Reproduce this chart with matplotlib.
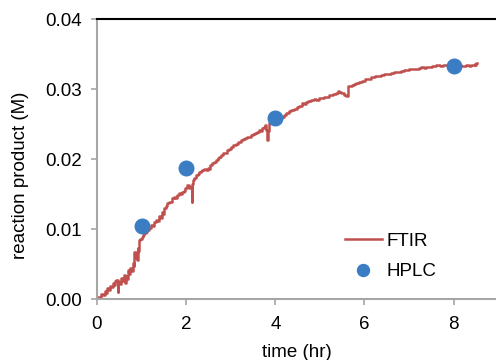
import matplotlib
matplotlib.use("Agg")
import matplotlib.pyplot as plt
from matplotlib.ticker import FormatStrFormatter

plt.rcParams['font.family'] = ['Liberation Sans', 'DejaVu Sans']

ftir_time = [0.00, 0.04, 0.08, 0.11, 0.15, 0.19, 0.22, 0.25, 0.28, 0.31, 0.34, 0.36, 0.39, 0.42,
             0.45, 0.47, 0.49, 0.52, 0.56, 0.59, 0.61, 0.63, 0.66, 0.68, 0.70, 0.73, 0.76, 0.79,
             0.81, 0.83, 0.85, 0.88, 0.90, 0.92, 0.94, 0.96, 0.99, 1.01, 1.05, 1.08, 1.11, 1.14,
             1.18, 1.23, 1.26, 1.30, 1.34, 1.37, 1.41, 1.44, 1.47, 1.50, 1.52, 1.56, 1.59, 1.63,
             1.66, 1.70, 1.74, 1.78, 1.82, 1.86, 1.90, 1.93, 1.97, 2.00, 2.02, 2.04, 2.07, 2.11,
             2.13, 2.15, 2.17, 2.20, 2.24, 2.27, 2.31, 2.34, 2.38, 2.42, 2.46, 2.50, 2.53, 2.56,
             2.60, 2.64, 2.69, 2.72, 2.76, 2.80, 2.84, 2.88, 2.94, 2.98, 3.03, 3.09, 3.14, 3.20,
             3.25, 3.30, 3.35, 3.39, 3.44, 3.48, 3.53, 3.57, 3.61, 3.66, 3.69, 3.72, 3.76, 3.79,
             3.81, 3.83, 3.84, 3.86, 3.90, 3.95, 4.00, 4.06, 4.11, 4.17, 4.22, 4.28, 4.33, 4.39,
             4.45, 4.51, 4.56, 4.62, 4.66, 4.71, 4.77, 4.83, 4.89, 4.95, 5.01, 5.07, 5.13, 5.17,
             5.22, 5.27, 5.32, 5.38, 5.42, 5.45, 5.49, 5.52, 5.57, 5.61, 5.63, 5.65, 5.70, 5.74,
             5.78, 5.84, 5.90, 5.97, 6.05, 6.12, 6.19, 6.27, 6.35, 6.40, 6.46, 6.52, 6.57, 6.63,
             6.68, 6.74, 6.80, 6.86, 6.91, 6.97, 7.03, 7.08, 7.13, 7.19, 7.24, 7.30, 7.35, 7.42,
             7.48, 7.53, 7.58, 7.65, 7.72, 7.80, 7.86, 7.92, 7.97, 8.03, 8.09, 8.14, 8.20, 8.25,
             8.31, 8.36, 8.42, 8.46, 8.48, 8.50, 8.52]

ftir_conc = [0.0000, 0.0003, 0.0002, 0.0007, 0.0006, 0.0011, 0.0009, 0.0016, 0.0013, 0.0019, 0.0017, 0.0023, 0.0020, 0.0026,
             0.0027, 0.0010, 0.0024, 0.0021, 0.0030, 0.0026, 0.0035, 0.0023, 0.0033, 0.0029, 0.0041, 0.0036, 0.0044, 0.0040,
             0.0051, 0.0047, 0.0067, 0.0058, 0.0056, 0.0073, 0.0069, 0.0084, 0.0086, 0.0089, 0.0091, 0.0094, 0.0096, 0.0099,
             0.0101, 0.0106, 0.0104, 0.0110, 0.0113, 0.0111, 0.0118, 0.0116, 0.0124, 0.0122, 0.0130, 0.0133, 0.0137, 0.0139,
             0.0138, 0.0144, 0.0146, 0.0145, 0.0149, 0.0151, 0.0150, 0.0153, 0.0155, 0.0158, 0.0160, 0.0163, 0.0159, 0.0160,
             0.0139, 0.0165, 0.0170, 0.0173, 0.0177, 0.0179, 0.0181, 0.0183, 0.0184, 0.0186, 0.0185, 0.0187, 0.0186, 0.0191,
             0.0194, 0.0196, 0.0199, 0.0201, 0.0203, 0.0206, 0.0208, 0.0209, 0.0213, 0.0214, 0.0217, 0.0220, 0.0222, 0.0225,
             0.0227, 0.0228, 0.0230, 0.0231, 0.0232, 0.0234, 0.0236, 0.0237, 0.0239, 0.0241, 0.0240, 0.0244, 0.0246, 0.0249,
             0.0241, 0.0227, 0.0240, 0.0251, 0.0253, 0.0256, 0.0257, 0.0259, 0.0259, 0.0260, 0.0263, 0.0266, 0.0268, 0.0270,
             0.0272, 0.0274, 0.0276, 0.0280, 0.0279, 0.0281, 0.0283, 0.0284, 0.0286, 0.0285, 0.0287, 0.0287, 0.0289, 0.0288,
             0.0291, 0.0292, 0.0293, 0.0294, 0.0297, 0.0296, 0.0294, 0.0294, 0.0292, 0.0290, 0.0300, 0.0304, 0.0305, 0.0306,
             0.0307, 0.0308, 0.0310, 0.0312, 0.0314, 0.0315, 0.0317, 0.0318, 0.0319, 0.0320, 0.0321, 0.0322, 0.0321, 0.0323,
             0.0324, 0.0325, 0.0325, 0.0326, 0.0327, 0.0327, 0.0328, 0.0329, 0.0329, 0.0328, 0.0330, 0.0331, 0.0330, 0.0331,
             0.0332, 0.0333, 0.0333, 0.0334, 0.0333, 0.0334, 0.0335, 0.0334, 0.0334, 0.0334, 0.0333, 0.0334, 0.0333, 0.0333,
             0.0334, 0.0333, 0.0335, 0.0334, 0.0336, 0.0334, 0.0337]

hplc_time = [1, 2, 4, 8]
hplc_conc = [0.0105, 0.0187, 0.0259, 0.0333]

x_ticks = [0, 2, 4, 6, 8]
y_ticks = [0.00, 0.01, 0.02, 0.03, 0.04]

RED = '#c0504d'
BLUE = '#3b7dc3'
GRAY = '#a6a6a6'

fig = plt.figure(figsize=(4.96, 3.6), dpi=100)
ax = fig.add_axes([97 / 496, 1 - 299 / 360, 1 - 97 / 496, 280 / 360])

ax.plot(ftir_time, ftir_conc, color=RED, lw=1.8, label='FTIR', zorder=2,
        drawstyle='steps-mid')
ax.plot(hplc_time, hplc_conc, 'o', color=BLUE, ms=10.5, mec=BLUE, label='HPLC', zorder=3)

ax.set_xlim(0, 8.95)
ax.set_ylim(0, 0.04)
ax.set_xticks(x_ticks)
ax.set_yticks(y_ticks)
ax.yaxis.set_major_formatter(FormatStrFormatter('%.2f'))

ax.spines['right'].set_visible(False)
ax.spines['top'].set_color('black')
ax.spines['top'].set_linewidth(1.5)
for side in ['left', 'bottom']:
    ax.spines[side].set_color(GRAY)
    ax.spines[side].set_linewidth(1.5)

ax.tick_params(axis='both', direction='out', length=4, width=1.2, color=GRAY,
               labelsize=13.5, labelcolor='black')
ax.tick_params(axis='y', pad=7)
ax.tick_params(axis='x', pad=8)

ax.set_xlabel('time (hr)', fontsize=13.5, labelpad=8)
ax.set_ylabel('reaction product (M)', fontsize=13.5)
ax.yaxis.set_label_coords(-0.17, 0.44)

leg = ax.legend(loc='upper left', bbox_to_anchor=(0.622, 0.237), frameon=False,
                fontsize=13.5, handlelength=1.95, handletextpad=0.25,
                labelspacing=0.72, borderpad=0, borderaxespad=0, markerscale=0.82)
leg.get_lines()[0].set_drawstyle('default')

fig.savefig('out.png', dpi=100)
